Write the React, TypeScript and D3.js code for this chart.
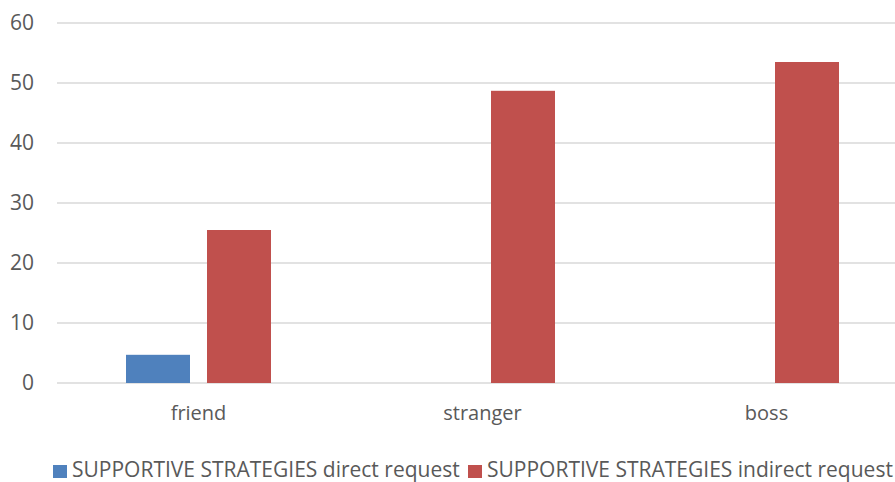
import React, { useEffect, useRef } from "react";
import * as d3 from "d3";

const categories = ["friend", "stranger", "boss"];
const seriesNames = ["SUPPORTIVE STRATEGIES direct request", "SUPPORTIVE STRATEGIES indirect request"];
const directRequest = [4.7, 0, 0];
const indirectRequest = [25.5, 48.7, 53.5];
const yTicks = [0, 10, 20, 30, 40, 50, 60];
const colors = ["#4f81bd", "#c0504d"];

const App = () => {
  const ref = useRef<SVGSVGElement>(null);

  useEffect(() => {
    drawChart();
  }, []);

  const drawChart = () => {
    const w = 895;
    const svg = d3.select(ref.current);
    svg.selectAll("*").remove();
    const font = "'Open Sans', sans-serif";

    const x = d3.scaleBand().domain(categories).range([56.5, 908.5]);
    const y = d3.scaleLinear().domain([0, 60]).range([383, 23]);
    const inner = d3.scaleBand().domain(["0", "1"]).range([0, x.bandwidth()]).paddingInner(0.21).paddingOuter(0.858);

    // gridlines
    svg.append("g")
      .selectAll("line")
      .data(yTicks)
      .enter()
      .append("line")
      .attr("x1", 57)
      .attr("x2", w)
      .attr("y1", (d) => y(d))
      .attr("y2", (d) => y(d))
      .attr("stroke", "#d9d9d9")
      .attr("stroke-width", 1.5);

    svg.append("g")
      .selectAll("text")
      .data(yTicks)
      .enter()
      .append("text")
      .attr("x", 34)
      .attr("y", (d) => y(d))
      .attr("dy", "0.35em")
      .attr("text-anchor", "end")
      .attr("fill", "#595959")
      .style("font-family", font)
      .style("font-size", "21px")
      .text((d) => d);

    const series = [directRequest, indirectRequest];
    series.forEach((vals, si) => {
      svg.append("g")
        .selectAll("rect")
        .data(vals)
        .enter()
        .append("rect")
        .attr("x", (d, i) => (x(categories[i]) as number) + (inner(String(si)) as number))
        .attr("width", inner.bandwidth())
        .attr("y", (d) => y(d))
        .attr("height", (d) => y(0) - y(d))
        .attr("fill", colors[si]);
    });

    // category labels
    svg.append("g")
      .selectAll("text")
      .data(categories)
      .enter()
      .append("text")
      .attr("x", (d) => (x(d) as number) + x.bandwidth() / 2)
      .attr("y", 420)
      .attr("text-anchor", "middle")
      .attr("fill", "#595959")
      .style("font-family", font)
      .style("font-size", "20px")
      .text((d) => d);

    // legend
    const legendX = [53, 468];
    seriesNames.forEach((name, i) => {
      svg.append("rect")
        .attr("x", legendX[i])
        .attr("y", 465)
        .attr("width", 14)
        .attr("height", 13)
        .attr("fill", colors[i]);
      svg.append("text")
        .attr("x", legendX[i] + 19)
        .attr("y", 477)
        .attr("fill", "#595959")
        .style("font-family", font)
        .style("font-size", "21px")
        .text(name);
    });
  };

  return (
    <div>
      <svg ref={ref} width={895} height={482} style={{ position: "absolute", top: 0, left: 0 }} />
    </div>
  );
};

export default App;
